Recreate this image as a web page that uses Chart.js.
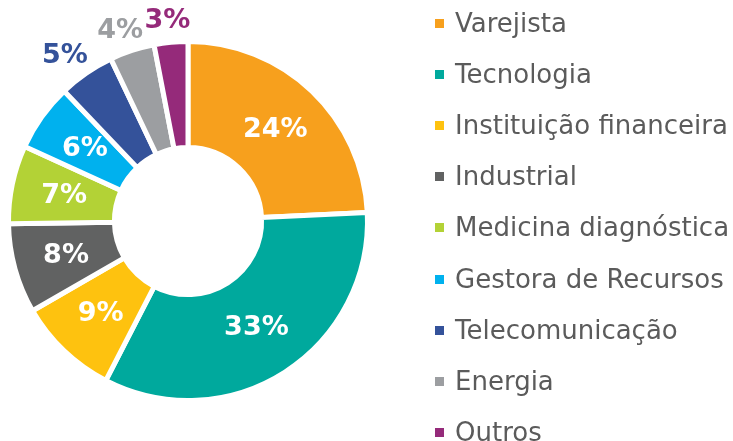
<!DOCTYPE html>
<html>
<head>
<meta charset="utf-8">
<script src="https://cdn.jsdelivr.net/npm/chart.js@4/dist/chart.umd.min.js"></script>
<style>
	html, body { margin: 0; padding: 0; background: #fff; }
	#wrap { width: 733px; height: 441px; position: relative; }
</style>
</head>
<body>
<div id="wrap"><canvas id="setores"></canvas></div>
<script>
const sectors = [ 'Varejista', 'Tecnologia', 'Instituição financeira', 'Industrial', 'Medicina diagnóstica', 'Gestora de Recursos', 'Telecomunicação', 'Energia', 'Outros' ];
const shares = [ 24, 33, 9, 8, 7, 6, 5, 4, 3 ];
const colours = [ '#F7A01D', '#00A99D', '#FEC20F', '#616262', '#B3D236', '#00B1EE', '#34529A', '#9C9EA1', '#952A7A' ];

// Percent labels: inside the ring for big slices, outside (in slice colour) for small ones.
const sliceLabels = {
	id: 'sliceLabels',
	afterDatasetsDraw( chart ) {
		const { ctx } = chart;
		const meta = chart.getDatasetMeta( 0 );
		ctx.save();
		ctx.font = 'bold 27px "DejaVu Sans"';
		ctx.textAlign = 'center';
		ctx.textBaseline = 'middle';
		meta.data.forEach( ( arc, i ) => {
			const text = shares[ i ] + '%';
			if ( shares[ i ] >= 6 ) {
				const p = arc.tooltipPosition();
				ctx.fillStyle = '#fff';
				ctx.fillText( text, p.x, p.y + 1 );
			} else {
				const { x, y, startAngle, endAngle, outerRadius } = arc.getProps( [ 'x', 'y', 'startAngle', 'endAngle', 'outerRadius' ] );
				const mid = ( startAngle + endAngle ) / 2;
				const r = outerRadius + 24;
				const w = ctx.measureText( text ).width;
				// push the box outward so its inner edge sits near the ring
				const cx = x + Math.cos( mid ) * r + Math.cos( mid ) * w * 0.3;
				const cy = y + Math.sin( mid ) * r;
				ctx.fillStyle = colours[ i ];
				ctx.fillText( text, cx, cy + 3 );
			}
		} );
		ctx.restore();
	}
};

// Legend drawn by hand so all nine rows keep one column.
const sideLegend = {
	id: 'sideLegend',
	afterDraw( chart ) {
		const { ctx } = chart;
		ctx.save();
		ctx.font = '26px "DejaVu Sans"';
		ctx.textBaseline = 'alphabetic';
		ctx.textAlign = 'left';
		sectors.forEach( ( name, i ) => {
			const base = 31.5 + i * 51.2;
			ctx.fillStyle = colours[ i ];
			ctx.fillRect( 435, Math.round( base - 13 ), 9, 9 );
			ctx.fillStyle = '#5B5B5B';
			ctx.fillText( name, 455, base );
		} );
		ctx.restore();
	}
};

new Chart( document.getElementById( 'setores' ), {
	type: 'doughnut',
	data: {
		labels: sectors,
		datasets: [
			{
				data: shares,
				backgroundColor: colours,
				borderColor: '#fff',
				borderWidth: 5,
				hoverBorderWidth: 5,
			}
		],
	},
	options: {
		responsive: true,
		maintainAspectRatio: false,
		animation: false,
		cutout: '41%',
		layout: {
			padding: { top: 39, bottom: 38, left: 6, right: 363 },
		},
		plugins: {
			legend: { display: false },
			tooltip: { enabled: false },
		},
	},
	plugins: [ sliceLabels, sideLegend ],
} );
</script>
</body>
</html>
